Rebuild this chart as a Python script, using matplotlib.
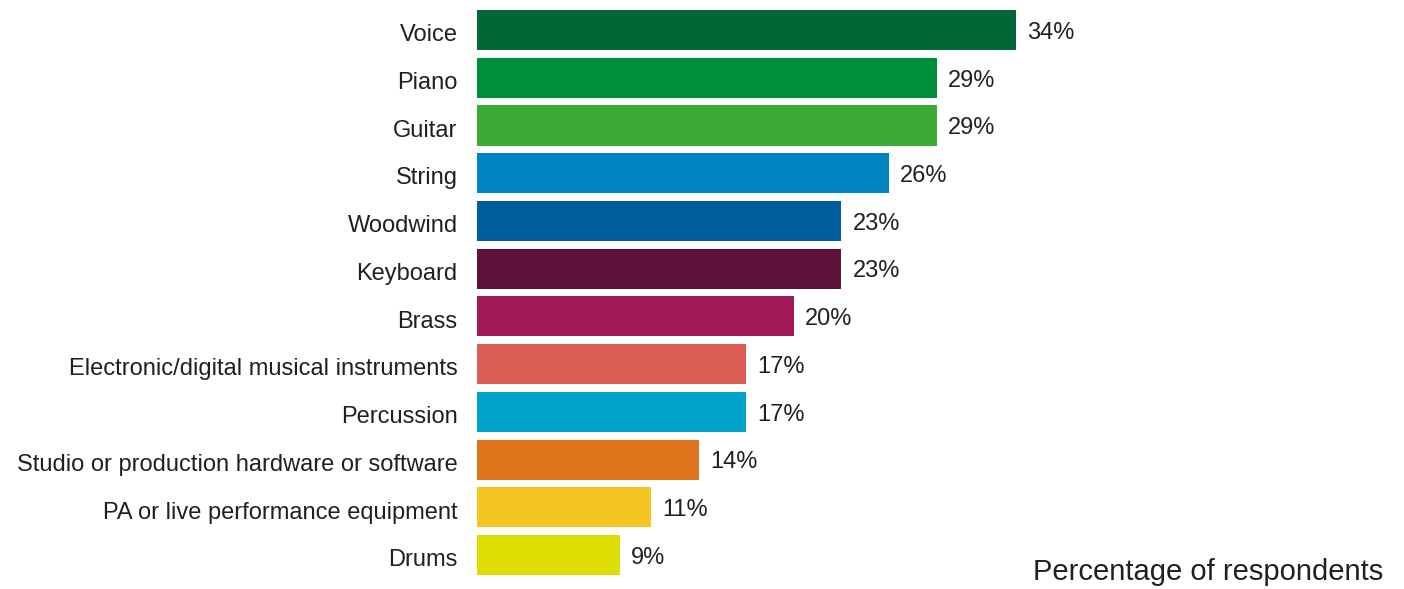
import matplotlib.pyplot as plt
import matplotlib.transforms as mtransforms

# survey results, top to bottom
categories = ['Voice', 'Piano', 'Guitar', 'String', 'Woodwind', 'Keyboard', 'Brass',
              'Electronic/digital musical instruments', 'Percussion',
              'Studio or production hardware or software',
              'PA or live performance equipment', 'Drums']
values = [34, 29, 29, 26, 23, 23, 20, 17, 17, 14, 11, 9]
colors = ['#006837', '#008f39', '#3daa35', '#0083c0', '#005e9e', '#5e1239',
          '#a21a5a', '#dc5d51', '#00a3c9', '#e0741b', '#f5c623', '#dedc00']

plt.rcParams['font.family'] = ['Liberation Sans', 'DejaVu Sans']
text_color = '#231f20'

fig = plt.figure(figsize=(14.04, 5.89), dpi=100)
ax = fig.add_axes([477 / 1404, 0.0171, 1 - 477 / 1404, 0.9725])

ypos = list(range(len(categories)))
ax.barh(ypos, values, height=0.84, color=colors)

# value labels just past the bar ends
for y, v in zip(ypos, values):
    ax.annotate(f'{v}%', xy=(v, y), xytext=(8, -2), textcoords='offset points',
                va='center', ha='left', fontsize=17, color=text_color)

ax.set_yticks(ypos)
ax.set_yticklabels(categories, fontsize=17, color=text_color)
ax.tick_params(axis='y', length=0, pad=14)
# nudge category labels down a little
shift = mtransforms.ScaledTranslation(0, -2 / 72, fig.dpi_scale_trans)
for lbl in ax.get_yticklabels():
    lbl.set_transform(lbl.get_transform() + shift)
ax.set_xticks([])
ax.set_xlim(0, 58.5)
ax.set_ylim(11.5, -0.5)
for s in ax.spines.values():
    s.set_visible(False)

fig.text(1383 / 1404, 1 - 572 / 589, 'Percentage of respondents', ha='right', va='center',
         fontsize=21, color=text_color)

fig.savefig('out.png', dpi=100)
